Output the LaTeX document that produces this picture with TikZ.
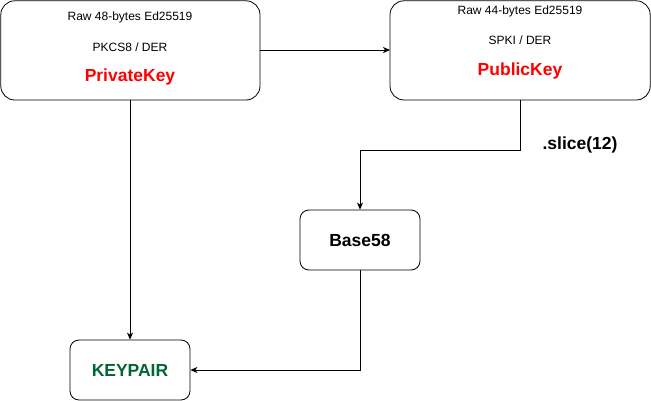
\documentclass[tikz,border=0pt]{standalone}
\usepackage{fontspec}
\setmainfont{Liberation Sans}
\usetikzlibrary{arrows.meta}
\definecolor{keyred}{RGB}{255,0,0}
\definecolor{keygreen}{RGB}{0,102,51}
\begin{document}
\begin{tikzpicture}[x=1pt,y=-1pt,
  bigbox/.style={draw,line width=0.8pt,rounded corners=14pt},
  smallbox/.style={draw,line width=0.8pt,rounded corners=9pt},
  conn/.style={line width=0.8pt,-{Stealth[length=7pt,width=6pt,inset=2pt]}},
  small/.style={font=\fontsize{12}{14}\selectfont},
  big/.style={font=\fontsize{17.5}{20}\selectfont\bfseries}]
\useasboundingbox (0,0) rectangle (651,401);
% boxes
\draw[bigbox] (0.8,0.8) rectangle (260,100);
\draw[bigbox] (390,0.8) rectangle (650.2,100);
\node[smallbox,minimum width=120pt,minimum height=60pt,inner sep=0pt] (b58) at (360,240) {};
\node[smallbox,minimum width=120pt,minimum height=60pt,inner sep=0pt] (kp) at (130,370) {};
\coordinate (privR) at (260,50);
\coordinate (pubL) at (390,50);
\coordinate (privB) at (130,100);
\coordinate (pubB) at (520,100);
% texts
\node[small] (t1) at (130,17) {Raw 48-bytes Ed25519};
\node[small] (t2) at (130,47) {PKCS8 / DER};
\node[big,text=keyred] (priv) at (130,77) {PrivateKey};
\node[small] (t3) at (520,11) {Raw 44-bytes Ed25519};
\node[small] (t4) at (520,40) {SPKI / DER};
\node[big,text=keyred] (pub) at (520,71) {PublicKey};
\node[big] (b58t) at (b58) {Base58};
\node[big,text=keygreen] (kpt) at (kp) {KEYPAIR};
\node[big] (slice) at (580,145) {.slice(12)};
% connectors
\draw[conn] (privR) -- (pubL);
\draw[conn] (privB) -- (kp.north);
\draw[conn] (pubB) -- (520,150) -- (360,150) -- (b58.north);
\draw[conn] (b58.south) -- (360,370) -- (kp.east);
\end{tikzpicture}
\end{document}
